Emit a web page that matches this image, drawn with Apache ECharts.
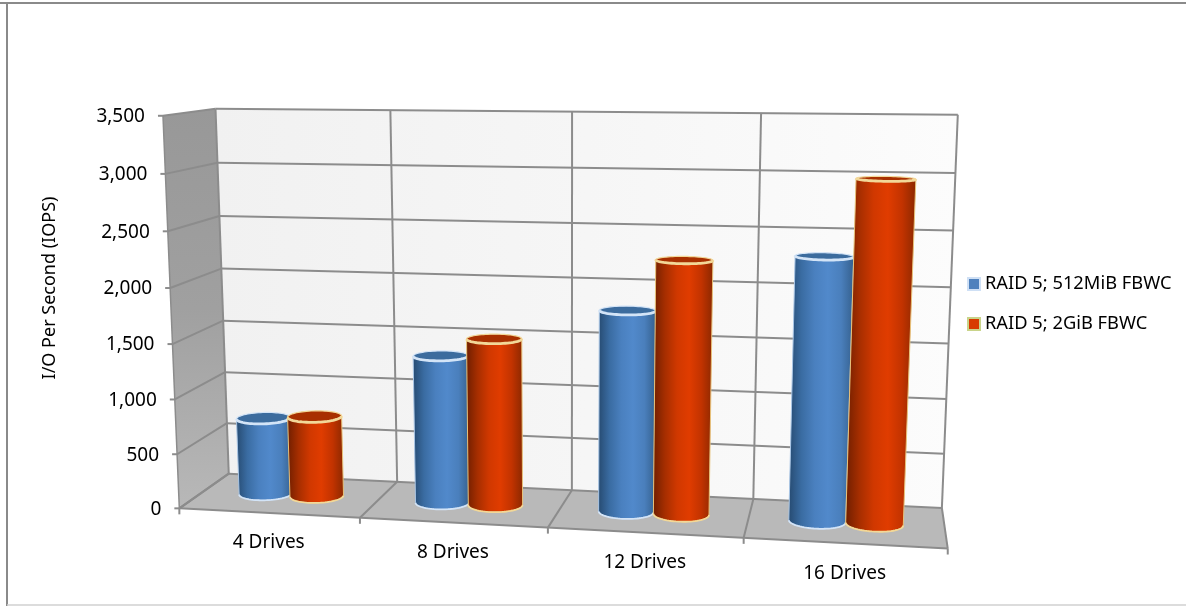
<!DOCTYPE html>
<html>
<head>
<meta charset="utf-8">
<style>html,body{margin:0;padding:0;background:#fff}#chart{width:1186px;height:606px}</style>
<script src="https://cdn.jsdelivr.net/npm/echarts@6/dist/echarts.min.js"></script>
</head>
<body>
<div id="chart"></div>
<script>
const categories = ['4 Drives', '8 Drives', '12 Drives', '16 Drives'];
const raid512 = [715, 1355, 1815, 2330];
const raid2g = [750, 1525, 2270, 2995];
const valueTicks = [0, 500, 1000, 1500, 2000, 2500, 3000, 3500];
const seriesNames = ['RAID 5; 512MiB FBWC', 'RAID 5; 2GiB FBWC'];
const axisTitle = 'I/O Per Second (IOPS)';

const FONT = '"Noto Sans", sans-serif';
const LINE = '#8c8c8c';

// Reference points of the 3D box: [across, depth, height, screenX, screenY],
// all three box coordinates running 0..1. A pinhole camera is fitted to them.
const cameraAnchors = [
  [0, 0, 0, 180, 508], [0.25, 0, 0, 361, 518], [0.5, 0, 0, 548, 528], [0.75, 0, 0, 743, 538], [1, 0, 0, 948, 548],
  [0, 1, 0, 228, 474], [0.25, 1, 0, 397, 482], [0.5, 1, 0, 572, 490], [0.75, 1, 0, 753, 499], [1, 1, 0, 942, 508],
  [0, 1, 1, 217, 109], [0.25, 1, 1, 390, 110], [0.5, 1, 1, 572, 112], [0.75, 1, 1, 761, 113], [1, 1, 1, 958, 115],
  [0, 0, 1, 162, 116], [0, 0, 3 / 7, 172, 344], [0, 1, 3 / 7, 223, 320]
];

function solveLinear(A, b) {
  const n = b.length;
  const M = A.map((r, i) => r.concat(b[i]));
  for (let c = 0; c < n; c++) {
    let p = c;
    for (let r = c + 1; r < n; r++) if (Math.abs(M[r][c]) > Math.abs(M[p][c])) p = r;
    [M[c], M[p]] = [M[p], M[c]];
    for (let r = c + 1; r < n; r++) {
      const f = M[r][c] / M[c][c];
      for (let k = c; k <= n; k++) M[r][k] -= f * M[c][k];
    }
  }
  const x = new Array(n).fill(0);
  for (let r = n - 1; r >= 0; r--) {
    let s = M[r][n];
    for (let k = r + 1; k < n; k++) s -= M[r][k] * x[k];
    x[r] = s / M[r][r];
  }
  return x;
}

function fitCamera(anchors) {
  const rows = [], rhs = [];
  anchors.forEach(([u, v, h, sx, sy]) => {
    rows.push([u, v, h, 1, 0, 0, 0, 0, -sx * u, -sx * v, -sx * h]); rhs.push(sx);
    rows.push([0, 0, 0, 0, u, v, h, 1, -sy * u, -sy * v, -sy * h]); rhs.push(sy);
  });
  const N = 11;
  const AtA = [], Atb = [];
  for (let i = 0; i < N; i++) {
    AtA.push(new Array(N).fill(0));
    Atb.push(0);
    rows.forEach((r, k) => {
      for (let j = 0; j < N; j++) AtA[i][j] += r[i] * r[j];
      Atb[i] += r[i] * rhs[k];
    });
  }
  return solveLinear(AtA, Atb);
}

const cam = fitCamera(cameraAnchors);
function project(u, v, h) {
  const w = cam[8] * u + cam[9] * v + cam[10] * h + 1;
  return [
    (cam[0] * u + cam[1] * v + cam[2] * h + cam[3]) / w,
    (cam[4] * u + cam[5] * v + cam[6] * h + cam[7]) / w
  ];
}

// Converts a pixel from the flat, hidden cartesian grid to box coordinates.
function toBox(params, pt) {
  const g = params.coordSys;
  return [(pt[0] - g.x) / g.width, (g.y + g.height - pt[1]) / g.height];
}

function poly(points, fill) {
  return { type: 'polygon', shape: { points }, style: { fill, stroke: 'none' }, silent: true };
}
function line(a, b, width, color) {
  return {
    type: 'line', shape: { x1: a[0], y1: a[1], x2: b[0], y2: b[1] },
    style: { stroke: color || LINE, lineWidth: width || 2 }, silent: true
  };
}
function label(text, x, y, align, verticalAlign) {
  return {
    type: 'text', x, y, silent: true,
    style: { text, font: '19px ' + FONT, fill: '#000', align, verticalAlign }
  };
}
function linear(x1, y1, x2, y2, stops) {
  const s = stops.map((c, i) => ({ offset: i / (stops.length - 1), color: c }));
  return new echarts.graphic.LinearGradient(x1, y1, x2, y2, s);
}

// Walls, floor, grid, ticks and the axis labels.
function renderBox(params, api) {
  const kids = [];
  kids.push(poly([project(0, 1, 0), project(1, 1, 0), project(1, 1, 1), project(0, 1, 1)],
    linear(0, 0, 1, 0, ['#f1f1f1', '#f6f6f6', '#fcfcfc'])));
  kids.push(poly([project(0, 0, 0), project(0, 1, 0), project(0, 1, 1), project(0, 0, 1)],
    linear(0, 0, 0, 1, ['#989898', '#a0a0a0', '#b8b8b8'])));
  kids.push(poly([project(0, 0, 0), project(1, 0, 0), project(1, 1, 0), project(0, 1, 0)], '#b9b9b9'));

  valueTicks.forEach(t => {
    const h = toBox(params, api.coord([0, t]))[1];
    const front = project(0, 0, h), back = project(0, 1, h), right = project(1, 1, h);
    kids.push(line(front, back));
    kids.push(line(back, right));
    kids.push(line([front[0] - 5, front[1]], front));
    kids.push(label(echarts.format.addCommas(t), front[0] - 18, front[1] + 1, 'right', 'middle'));
  });

  categories.concat(null).forEach((_, i) => {
    const u = i / categories.length;
    const front = project(u, 0, 0), back = project(u, 1, 0), top = project(u, 1, 1);
    kids.push(line(front, back));
    kids.push(line(back, top));
    kids.push(line(front, [front[0], front[1] + 6]));
  });
  kids.push(line(project(0, 0, 0), project(0, 0, 1), 1.5));
  kids.push(line(project(0, 0, 0), project(1, 0, 0), 2));

  categories.forEach((name, i) => {
    const u = toBox(params, api.coord([i, 0]))[0];
    const p = project(u, 0, 0);
    kids.push(label(name, p[0], p[1] + 30, 'center', 'middle'));
  });

  kids.push({
    type: 'text', x: 50, y: 288, rotation: Math.PI / 2, silent: true,
    style: { text: axisTitle, font: '18px ' + FONT, fill: '#000', align: 'center', verticalAlign: 'middle' }
  });
  return { type: 'group', children: kids };
}

// One cylinder drawn from a value; side is -1 or +1 within the category band.
function cylinderRenderer(side, look) {
  return function (params, api) {
    const g = params.coordSys;
    const base = toBox(params, api.coord([api.value(0), 0]));
    const topP = toBox(params, api.coord([api.value(0), api.value(1)]));
    const band = api.size([1, 0])[0] / g.width;
    const ru = band * 0.146, rv = 0.19;
    const uc = base[0] + side * ru, vc = 0.5;
    const ring = h => {
      const pts = [];
      for (let k = 0; k < 72; k++) {
        const a = k / 72 * Math.PI * 2;
        pts.push(project(uc + ru * Math.cos(a), vc + rv * Math.sin(a), h));
      }
      return pts;
    };
    const lower = ring(0), upper = ring(topP[1]);
    // The half of a ring nearest the viewer, walked from its right extreme to its left.
    const frontArc = pts => {
      const xs = pts.map(p => p[0]);
      const li = xs.indexOf(Math.min(...xs)), ri = xs.indexOf(Math.max(...xs));
      const arc = [];
      for (let idx = ri; ; idx = (idx + 71) % 72) {
        arc.push(pts[idx]);
        if (idx === li) break;
      }
      return arc;
    };
    const lowArc = frontArc(lower), upArc = frontArc(upper);
    const body = lowArc.concat(upArc.slice().reverse());
    return {
      type: 'group',
      children: [
        {
          type: 'polygon', shape: { points: body }, silent: true,
          style: { fill: linear(0, 0, 1, 0, look.body), stroke: look.edge, lineWidth: 1 }
        },
        {
          type: 'polyline', shape: { points: lowArc }, silent: true,
          style: { fill: 'none', stroke: look.rim, lineWidth: 1.8 }
        },
        {
          type: 'polygon', shape: { points: upper }, silent: true,
          style: { fill: look.cap, stroke: look.rim, lineWidth: 1.2 }
        },
        {
          type: 'polyline', shape: { points: upArc }, silent: true,
          style: { fill: 'none', stroke: look.rim, lineWidth: 2.8 }
        }
      ]
    };
  };
}

const blueLook = {
  body: ['#264a70', '#3a6ca2', '#4a80bf', '#5189cb', '#4a7fbc', '#345f8c'],
  cap: '#3c6c9e', rim: '#d3e4f7', edge: '#a9c6e6'
};
const redLook = {
  body: ['#6e1e00', '#a62e00', '#d03800', '#e03c00', '#c23300', '#8a2800'],
  cap: '#a83000', rim: '#f2d898', edge: '#e8c27a'
};

const chart = echarts.init(document.getElementById('chart'), null, { renderer: 'canvas' });
chart.setOption({
  animation: false,
  backgroundColor: '#fff',
  grid: { left: 200, right: 300, top: 100, bottom: 100 },
  xAxis: { type: 'category', data: categories, show: false },
  yAxis: { type: 'value', min: 0, max: 3500, interval: 500, show: false },
  tooltip: { show: false },
  legend: {
    orient: 'vertical', left: 962, top: 270, itemWidth: 12, itemHeight: 12, itemGap: 22,
    icon: 'rect', selectedMode: false,
    textStyle: { fontFamily: FONT, fontSize: 18.3, color: '#000' },
    data: [
      { name: seriesNames[0], itemStyle: { color: '#4f81bd', borderColor: '#cfe0f5', borderWidth: 2 } },
      { name: seriesNames[1], itemStyle: { color: '#d83a00', borderColor: '#c9d48a', borderWidth: 2 } }
    ]
  },
  graphic: [
    { type: 'line', shape: { x1: 0, y1: 3, x2: 1186, y2: 3 }, style: { stroke: '#8a8a8a', lineWidth: 2 }, silent: true },
    { type: 'line', shape: { x1: 7, y1: 3, x2: 7, y2: 606 }, style: { stroke: '#8a8a8a', lineWidth: 2 }, silent: true },
    { type: 'line', shape: { x1: 7, y1: 605, x2: 1186, y2: 605 }, style: { stroke: '#d0d0d0', lineWidth: 1.5 }, silent: true }
  ],
  series: [
    { type: 'custom', name: 'box', z: 1, silent: true, renderItem: renderBox, data: [[0, 0]], clip: false },
    {
      type: 'custom', name: seriesNames[0], z: 2, silent: true, clip: false,
      renderItem: cylinderRenderer(-1, blueLook), itemStyle: { color: '#4f81bd' },
      encode: { x: 0, y: 1 }, data: raid512.map((v, i) => [i, v])
    },
    {
      type: 'custom', name: seriesNames[1], z: 3, silent: true, clip: false,
      renderItem: cylinderRenderer(1, redLook), itemStyle: { color: '#d83a00' },
      encode: { x: 0, y: 1 }, data: raid2g.map((v, i) => [i, v])
    }
  ]
});
</script>
</body>
</html>
